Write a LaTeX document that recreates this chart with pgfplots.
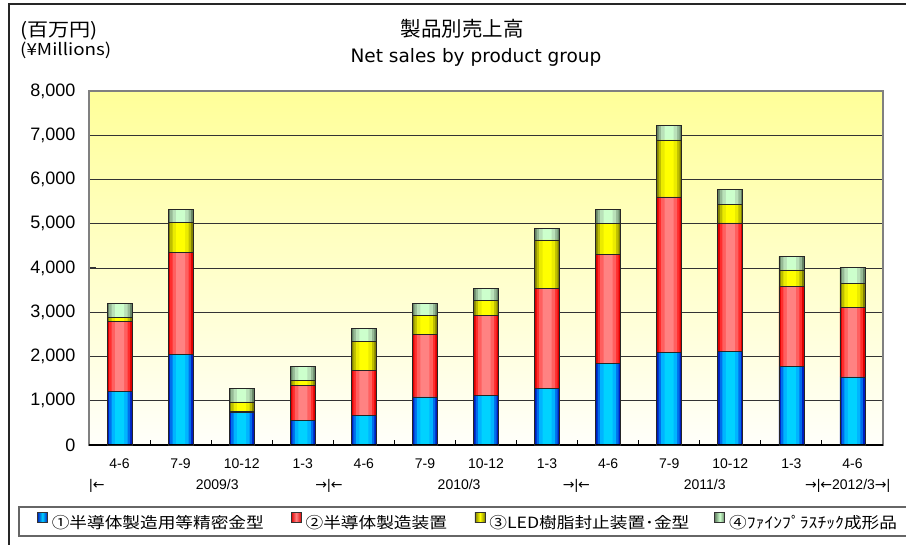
\documentclass[border=0pt]{standalone}
\usepackage{fontspec}
\setmainfont{Liberation Sans}
\newfontfamily\jp{Noto Sans CJK JP}
\newfontfamily\jpw[FakeStretch=1.14]{Noto Sans CJK JP}
\newfontfamily\dv{DejaVu Sans}
\usepackage{pgfplots}
\usepackage{pgfplotstable}
\pgfplotsset{compat=1.18}

% segment values per quarter (¥ millions)
\pgfplotstableread{
x  blue red  yel  grn
0  1205 1582 98   309
1  2041 2306 678  308
2  738  30   204  309
3  557  791  113  309
4  670  1017 656  294
5  1085 1408 437  264
6  1122 1808 332  271
7  1273 2268 1092 263
8  1846 2463 700  309
9  2094 3511 1288 331
10 2124 2893 429  324
11 1778 1800 377  309
12 1537 1567 550  354
}\sales

% bar shading steps, edge -> centre
\definecolor{b1}{RGB}{0,30,190}    \definecolor{r1}{RGB}{220,0,0}
\definecolor{b2}{RGB}{0,110,235}   \definecolor{r2}{RGB}{255,45,45}
\definecolor{b3}{RGB}{0,180,255}   \definecolor{r3}{RGB}{255,95,95}
\definecolor{b4}{RGB}{0,210,255}   \definecolor{r4}{RGB}{255,130,130}
\definecolor{y1}{RGB}{128,128,0}   \definecolor{g1}{RGB}{100,130,100}
\definecolor{y2}{RGB}{190,190,0}   \definecolor{g2}{RGB}{150,185,150}
\definecolor{y3}{RGB}{235,235,0}   \definecolor{g3}{RGB}{185,225,185}
\definecolor{y4}{RGB}{255,255,0}   \definecolor{g4}{RGB}{204,255,204}
\definecolor{bgTop}{RGB}{255,255,153}
\definecolor{bgBot}{RGB}{255,255,250}

\pgfplotsset{
  geom/.style={at={(89pt,100pt)}, anchor=south west,
    scale only axis, width=794pt, height=354pt,
    xmin=-0.5, xmax=12.5, ymin=0, ymax=8000,
    ybar stacked, clip=false},
  lgimg/.style 2 args={legend image code/.code={%
    \draw[left color=#1, right color=#1, middle color=#2, draw=black!80, line width=0.8pt]
      (0pt,0pt) rectangle (10pt,10pt);}},
}

\newcommand\layer[5]{%
\begin{axis}[geom, hide axis, bar width=#1]
\addplot[fill=#2, draw=none] table[x=x, y=blue] {\sales};
\addplot[fill=#3, draw=none] table[x=x, y=red] {\sales};
\addplot[fill=#4, draw=none] table[x=x, y=yel] {\sales};
\addplot[fill=#5, draw=none] table[x=x, y=grn] {\sales};
\end{axis}}

\begin{document}
\begin{tikzpicture}
\useasboundingbox (0pt,0pt) rectangle (906pt,545pt);
\draw[black!85, line width=1.2pt] (9pt,-5pt) -- (9pt,541pt) -- (915pt,541pt);
\draw[black!60, line width=1.3pt] (19pt,9pt) rectangle (915pt,38pt);

\node[font=\jp\fontsize{20.5}{20.5}\selectfont] at (462pt,516pt) {製品別売上高};
\node[font=\dv\fontsize{18.5}{18.5}\selectfont, anchor=base] at (476pt,482pt) {Net sales by product group};
\node[font=\jpw\fontsize{18.5}{18.5}\selectfont, anchor=west, inner sep=0pt] at (20pt,514pt) {(百万円)};
\node[font=\jpw\fontsize{16.5}{16.5}\selectfont, anchor=west, inner sep=0pt] at (20pt,495pt) {(¥Millions)};

\begin{axis}[
  geom, bar width=25pt,
  xtick={0,...,12},
  xticklabels={4-6,7-9,10-12,1-3,4-6,7-9,10-12,1-3,4-6,7-9,10-12,1-3,4-6},
  minor xtick={0.5,1.5,...,11.5},
  ytick={0,1000,...,8000},
  ymajorgrids, major grid style={black!80, line width=0.9pt},
  tick align=inside, xtick pos=bottom, ytick pos=left,
  major x tick style={draw=none},
  minor x tick style={black, line width=1pt},
  major y tick style={black!80, line width=1pt},
  minor tick length=5pt, major tick length=7pt,
  axis line style={draw=gray, line width=1.8pt},
  axis background/.style={top color=bgTop, bottom color=bgBot},
  yticklabel style={font=\fontsize{18}{18}\selectfont, xshift=-10pt},
  xticklabel style={font=\fontsize{14}{14}\selectfont, yshift=-10pt},
  /pgf/number format/assume math mode=true,
  /pgf/number format/1000 sep={,},
  scaled y ticks=false,
  legend columns=4,
  legend style={at={(-0.0655,-0.2147)}, anchor=west, draw=none, fill=none,
    inner sep=0pt, outer sep=0pt,
    font=\jpw\fontsize{15.5}{15.5}\selectfont,
    nodes={inner sep=0pt},
    /tikz/every odd column/.append style={column sep=4pt}},
]
\addplot[fill=b1, draw=none, lgimg={b1}{b4}] table[x=x, y=blue] {\sales};
\addlegendentry{\makebox[239pt][l]{①半導体製造用等精密金型}}
\addplot[fill=r1, draw=none, lgimg={r1}{r4}] table[x=x, y=red] {\sales};
\addlegendentry{\makebox[169pt][l]{②半導体製造装置}}
\addplot[fill=y1, draw=none, lgimg={y1}{y4}] table[x=x, y=yel] {\sales};
\addlegendentry{\makebox[225pt][l]{③LED樹脂封止装置･金型}}
\addplot[fill=g1, draw=none, lgimg={g1}{g4}] table[x=x, y=grn] {\sales};
\addlegendentry{④ﾌｧｲﾝﾌﾟﾗｽﾁｯｸ成形品}

\node[font=\fontsize{14}{14}\selectfont, anchor=base west, inner sep=0pt] at ([yshift=-45pt]axis cs:-0.5,0) {|{\dv ←}};
\node[font=\fontsize{14}{14}\selectfont, anchor=base, inner sep=0pt] at ([yshift=-45pt]axis cs:1.6,0) {2009/3};
\node[font=\fontsize{14}{14}\selectfont, anchor=base, inner sep=0pt] at ([yshift=-45pt]axis cs:3.43,0) {{\dv →}|{\dv ←}};
\node[font=\fontsize{14}{14}\selectfont, anchor=base, inner sep=0pt] at ([yshift=-45pt]axis cs:5.56,0) {2010/3};
\node[font=\fontsize{14}{14}\selectfont, anchor=base, inner sep=0pt] at ([yshift=-45pt]axis cs:7.48,0) {{\dv →}|{\dv ←}};
\node[font=\fontsize{14}{14}\selectfont, anchor=base, inner sep=0pt] at ([yshift=-45pt]axis cs:9.58,0) {2011/3};
\node[font=\fontsize{14}{14}\selectfont, anchor=base west, inner sep=0pt] at ([yshift=-45pt]axis cs:11.22,0) {{\dv →}|{\dv ←}2012/3{\dv →}|};
\end{axis}

\layer{21pt}{b2}{r2}{y2}{g2}
\layer{16pt}{b3}{r3}{y3}{g3}
\layer{9pt}{b4}{r4}{y4}{g4}

\begin{axis}[geom, hide axis, bar width=25pt]
\addplot[fill=none, draw=black!85, line width=0.7pt] table[x=x, y=blue] {\sales};
\addplot[fill=none, draw=black!85, line width=0.7pt] table[x=x, y=red] {\sales};
\addplot[fill=none, draw=black!85, line width=0.7pt] table[x=x, y=yel] {\sales};
\addplot[fill=none, draw=black!85, line width=0.7pt] table[x=x, y=grn] {\sales};
\draw[black, line width=1.2pt] (axis cs:-0.5,0) -- (axis cs:12.5,0);
\end{axis}
\end{tikzpicture}
\end{document}
